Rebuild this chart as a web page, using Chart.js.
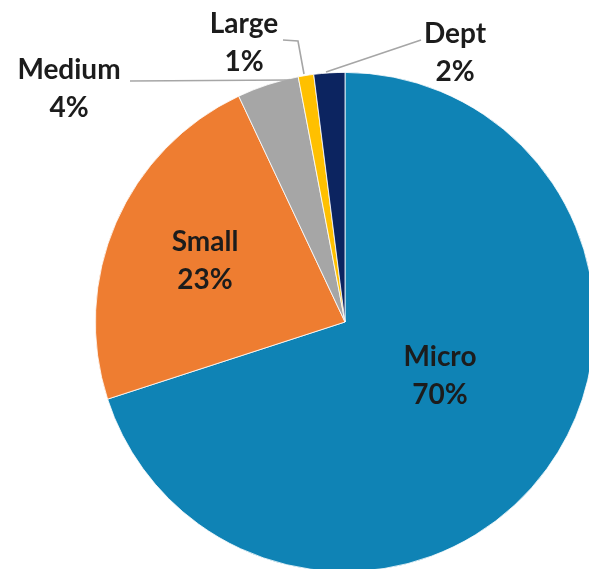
<!DOCTYPE html>
<html>
<head>
<meta charset="utf-8">
<script src="https://cdn.jsdelivr.net/npm/chart.js@4/dist/chart.umd.min.js"></script>
<style>
  html, body { margin: 0; padding: 0; background: #ffffff; overflow: hidden; }
  body { width: 589px; height: 569px; position: relative; }
  #wrap { position: absolute; left: 0; top: 0; width: 690px; height: 644px; }
</style>
</head>
<body>
<div id="wrap"><canvas id="pie" width="690" height="644"></canvas></div>
<script>
// Share of businesses by size
const categories = ['Micro', 'Small', 'Medium', 'Large', 'Dept'];
const shares = [70, 23, 4, 1, 2];
const sliceColors = ['#0f83b5', '#ee7d31', '#a6a6a6', '#ffc000', '#0c2460'];

// Where each label sits: inside the slice or beside it with a leader line
const labelPlacement = [
  { x: 440, y: 376 },
  { x: 205, y: 261 },
  { x: 69,  y: 89,  leader: [[130, 81], [290, 80]] },
  { x: 244, y: 43,  leader: [[283, 40], [298, 41], [304, 74]] },
  { x: 455, y: 53,  leader: [[421, 40], [326, 72]] }
];

const FONT = 'bold 28px Lato, "Open Sans", sans-serif';

const sliceLabels = {
  id: 'sliceLabels',
  afterDatasetsDraw(chart) {
    const ctx = chart.ctx;
    ctx.save();
    // leader lines
    ctx.strokeStyle = '#a6a6a6';
    ctx.lineWidth = 1.6;
    labelPlacement.forEach(p => {
      if (!p.leader) return;
      ctx.beginPath();
      p.leader.forEach(([x, y], i) => i ? ctx.lineTo(x, y) : ctx.moveTo(x, y));
      ctx.stroke();
    });
    ctx.font = FONT;
    ctx.fillStyle = '#1c1c1c';
    ctx.textAlign = 'center';
    ctx.textBaseline = 'middle';
    categories.forEach((name, i) => {
      const p = labelPlacement[i];
      ctx.fillText(name, p.x, p.y - 19);
      ctx.fillText(shares[i] + '%', p.x, p.y + 19);
    });
    ctx.restore();
  }
};

new Chart(document.getElementById('pie'), {
  type: 'pie',
  data: {
    labels: categories,
    datasets: [{
      data: shares,
      backgroundColor: sliceColors,
      borderColor: '#ffffff',
      borderWidth: 0.8
    }]
  },
  options: {
    responsive: false,
    animation: false,
    layout: { padding: { left: 95, right: 95, top: 72, bottom: 72 } },
    plugins: {
      legend: { display: false },
      tooltip: { enabled: false }
    }
  },
  plugins: [sliceLabels]
});
</script>
</body>
</html>
